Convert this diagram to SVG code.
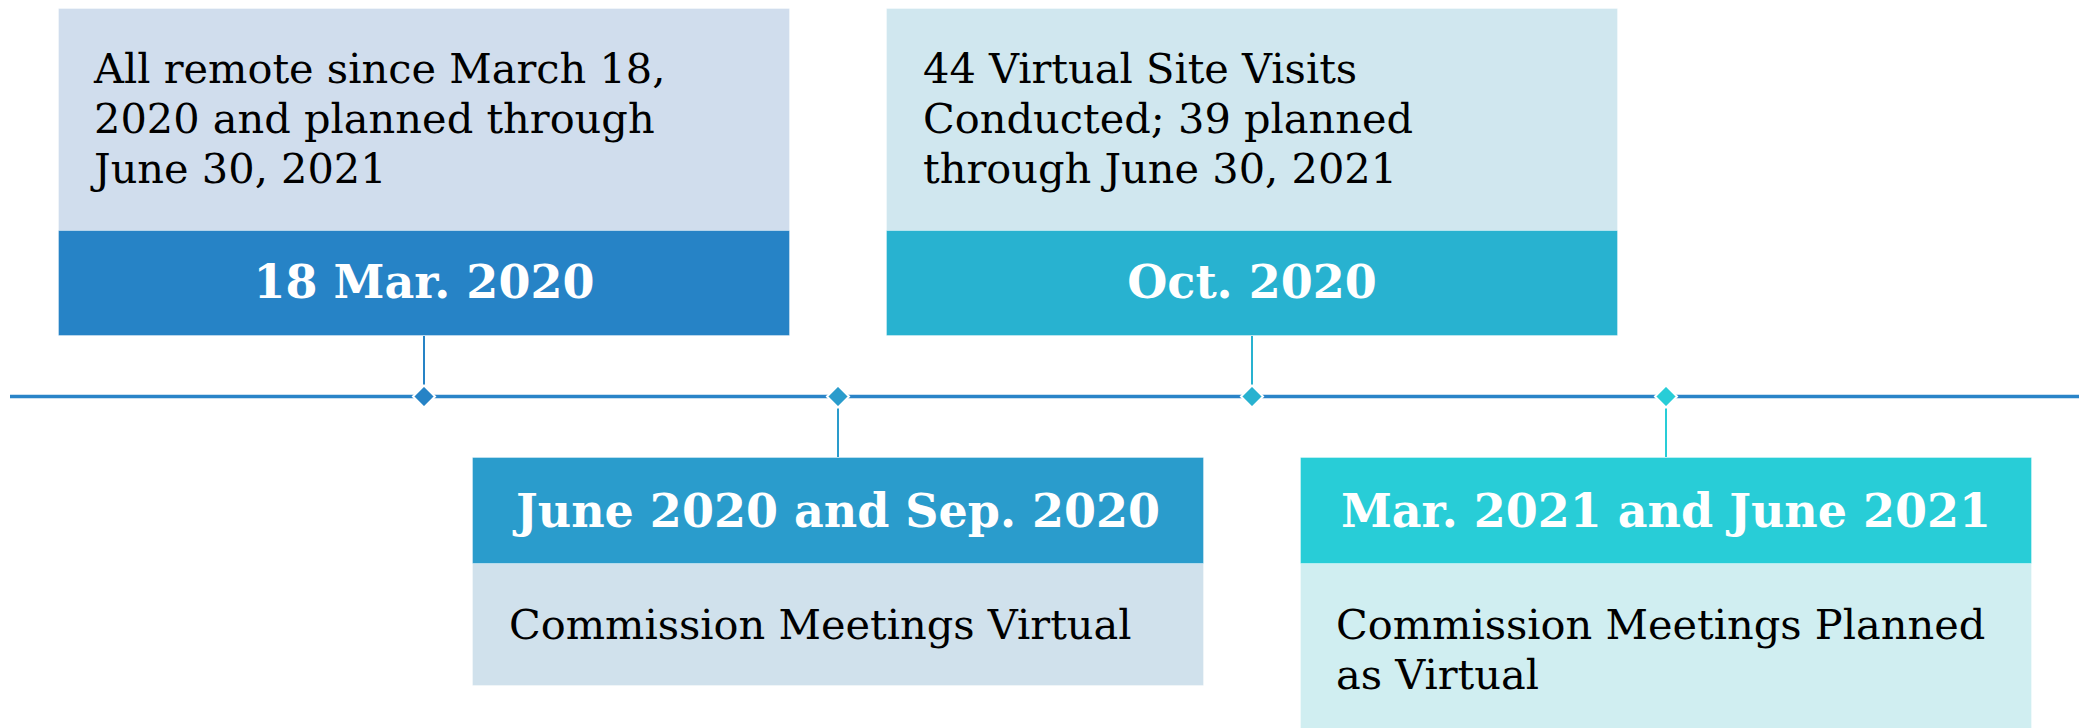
<svg xmlns="http://www.w3.org/2000/svg" width="2079" height="728" viewBox="0 0 2079 728">
<style>
.body{font-family:"DejaVu Serif","Liberation Serif",serif;font-size:41.5px;fill:#000}
.head{font-family:"DejaVu Serif","Liberation Serif",serif;font-size:46px;font-weight:bold;fill:#fff;text-anchor:middle}
.edge{stroke:#ffffff;stroke-opacity:0.35;stroke-width:1}
.dia{stroke:#fff;stroke-width:2}
</style>
<rect width="2079" height="728" fill="#fff"/>
<g id="connectors">
<line x1="10" y1="396.5" x2="2079" y2="396.5" stroke="#2a84c8" stroke-width="3.5"/>
<line x1="424" y1="336" x2="424" y2="388" stroke="#2683c6" stroke-width="2"/>
<line x1="838" y1="405" x2="838" y2="457" stroke="#2a9ccc" stroke-width="2"/>
<line x1="1252" y1="336" x2="1252" y2="388" stroke="#28b2d0" stroke-width="2"/>
<line x1="1666" y1="405" x2="1666" y2="457" stroke="#28cdd7" stroke-width="2"/>
<polygon class="dia" points="424,385.5 435,396.5 424,407.5 413,396.5" fill="#2683c6"/>
<polygon class="dia" points="838,385.5 849,396.5 838,407.5 827,396.5" fill="#2a9ccc"/>
<polygon class="dia" points="1252,385.5 1263,396.5 1252,407.5 1241,396.5" fill="#28b2d0"/>
<polygon class="dia" points="1666,385.5 1677,396.5 1666,407.5 1655,396.5" fill="#28cdd7"/>
</g>
<g id="node1">
<rect class="edge" x="58.5" y="8.5" width="731" height="222" fill="#d0dded"/>
<rect class="edge" x="58.5" y="230.5" width="731" height="105" fill="#2683c6"/>
<text class="body" x="94" y="83">All remote since March 18,</text>
<text class="body" x="94" y="133">2020 and planned through</text>
<text class="body" x="94" y="183">June 30, 2021</text>
<text class="head" x="424" y="298">18 Mar. 2020</text>
</g>
<g id="node2">
<rect class="edge" x="472.5" y="563.5" width="731" height="122" fill="#d0e1ec"/>
<rect class="edge" x="472.5" y="457.5" width="731" height="106" fill="#2a9ccc"/>
<text class="head" x="838" y="527">June 2020 and Sep. 2020</text>
<text class="body" x="509" y="639">Commission Meetings Virtual</text>
</g>
<g id="node3">
<rect class="edge" x="886.5" y="8.5" width="731" height="222" fill="#d0e7ef"/>
<rect class="edge" x="886.5" y="230.5" width="731" height="105" fill="#28b2d0"/>
<text class="body" x="923" y="83">44 Virtual Site Visits</text>
<text class="body" x="923" y="133">Conducted; 39 planned</text>
<text class="body" x="923" y="183">through June 30, 2021</text>
<text class="head" x="1252" y="298">Oct. 2020</text>
</g>
<g id="node4">
<rect class="edge" x="1300.5" y="563.5" width="731" height="170" fill="#d0eef1"/>
<rect class="edge" x="1300.5" y="457.5" width="731" height="106" fill="#28cdd7"/>
<text class="head" x="1666" y="527">Mar. 2021 and June 2021</text>
<text class="body" x="1336" y="639">Commission Meetings Planned</text>
<text class="body" x="1336" y="689">as Virtual</text>
</g>
</svg>
